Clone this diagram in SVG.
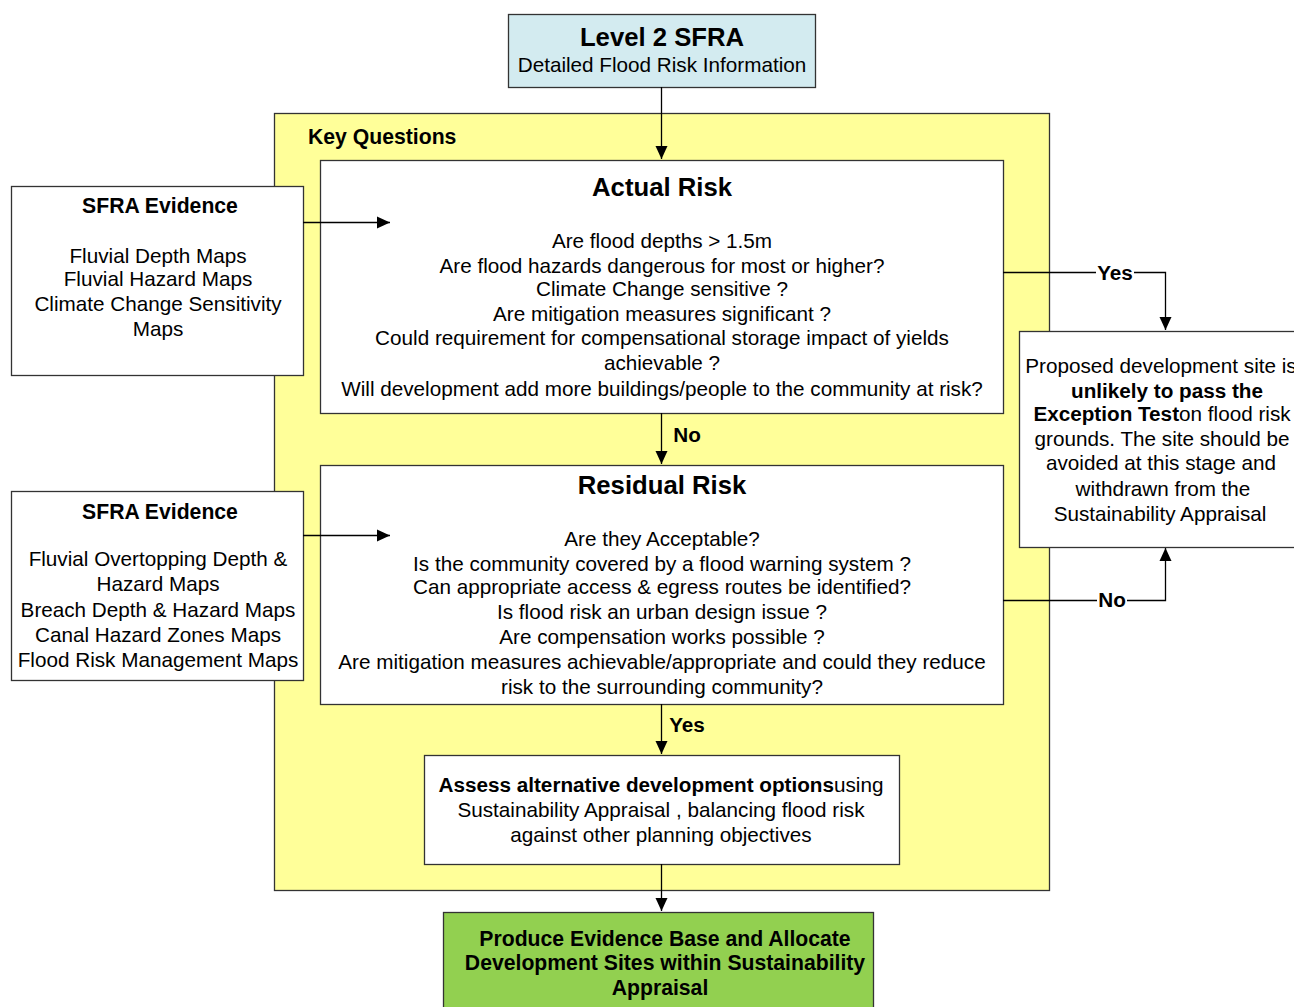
<svg xmlns="http://www.w3.org/2000/svg" width="1294" height="1007" viewBox="0 0 1294 1007">
<defs>
<marker id="ah" markerWidth="14" markerHeight="14" refX="13" refY="7" orient="auto" markerUnits="userSpaceOnUse">
<path d="M0,1 L13,7 L0,13 Z" fill="#000"/>
</marker>
<style>
.box{stroke:#333;stroke-width:1.3}
.t{font-family:"Liberation Sans",Arial,sans-serif;font-size:20.7px;fill:#000;text-anchor:middle}
.b{font-weight:bold}
.h{font-weight:bold;font-size:21.2px}
.ti{font-weight:bold;font-size:25.7px}
.c{fill:none;stroke:#000;stroke-width:1.3}
</style>
</defs>
<rect width="1294" height="1007" fill="#fff"/>

<g id="key-questions">
<rect class="box" x="274.5" y="113.5" width="775" height="777" fill="#ffff99"/>
<text class="t h" x="308" y="144" style="text-anchor:start">Key Questions</text>
</g>

<g id="level2">
<rect class="box" x="508.5" y="14.5" width="307" height="73" fill="#d3ebf0"/>
<text class="t ti" x="662" y="46">Level 2 SFRA</text>
<text class="t" x="662" y="72">Detailed Flood Risk Information</text>
</g>

<g id="actual-risk">
<rect class="box" x="320.5" y="160.5" width="683" height="253" fill="#fff"/>
<text class="t ti" x="662" y="196">Actual Risk</text>
<text class="t" x="662" y="248">Are flood depths &gt; 1.5m</text>
<text class="t" x="662" y="273">Are flood hazards dangerous for most or higher?</text>
<text class="t" x="662" y="296">Climate Change sensitive ?</text>
<text class="t" x="662" y="321">Are mitigation measures significant ?</text>
<text class="t" x="662" y="345">Could requirement for compensational storage impact of yields</text>
<text class="t" x="662" y="370">achievable ?</text>
<text class="t" x="662" y="396">Will development add more buildings/people to the community at risk?</text>
</g>

<g id="residual-risk">
<rect class="box" x="320.5" y="465.5" width="683" height="239" fill="#fff"/>
<text class="t ti" x="662" y="494">Residual Risk</text>
<text class="t" x="662" y="546">Are they Acceptable?</text>
<text class="t" x="662" y="571">Is the community covered by a flood warning system ?</text>
<text class="t" x="662" y="594">Can appropriate access &amp; egress routes be identified?</text>
<text class="t" x="662" y="619">Is flood risk an urban design issue ?</text>
<text class="t" x="662" y="644">Are compensation works possible ?</text>
<text class="t" x="662" y="669">Are mitigation measures achievable/appropriate and could they reduce</text>
<text class="t" x="662" y="694">risk to the surrounding community?</text>
</g>

<g id="evidence-1">
<rect class="box" x="11.5" y="186.5" width="292" height="189" fill="#fff"/>
<text class="t h" x="160" y="213">SFRA Evidence</text>
<text class="t" x="158" y="263">Fluvial Depth Maps</text>
<text class="t" x="158" y="286">Fluvial Hazard Maps</text>
<text class="t" x="158" y="311">Climate Change Sensitivity</text>
<text class="t" x="158" y="336">Maps</text>
</g>

<g id="evidence-2">
<rect class="box" x="11.5" y="491.5" width="292" height="189" fill="#fff"/>
<text class="t h" x="160" y="519">SFRA Evidence</text>
<text class="t" x="158" y="566">Fluvial Overtopping Depth &amp;</text>
<text class="t" x="158" y="591">Hazard Maps</text>
<text class="t" x="158" y="617">Breach Depth &amp; Hazard Maps</text>
<text class="t" x="158" y="642">Canal Hazard Zones Maps</text>
<text class="t" x="158" y="667">Flood Risk Management Maps</text>
</g>

<g id="unlikely">
<rect class="box" x="1019.5" y="331.5" width="290" height="216" fill="#fff"/>
<text class="t" x="1161" y="373">Proposed development site is</text>
<text class="t b" x="1167" y="398">unlikely to pass the</text>
<text class="t" x="1162" y="421"><tspan class="b">Exception Test</tspan>on flood risk</text>
<text class="t" x="1162" y="446">grounds.  The site should be</text>
<text class="t" x="1161" y="470">avoided at this stage and</text>
<text class="t" x="1163" y="496">withdrawn from the</text>
<text class="t" x="1160" y="521">Sustainability Appraisal</text>
</g>

<g id="assess">
<rect class="box" x="424.5" y="755.5" width="475" height="109" fill="#fff"/>
<text class="t" x="661" y="792"><tspan class="b">Assess alternative development options</tspan>using</text>
<text class="t" x="661" y="817">Sustainability Appraisal , balancing flood risk</text>
<text class="t" x="661" y="842">against other planning objectives</text>
</g>

<g id="produce">
<rect class="box" x="443.5" y="912.5" width="430" height="100" fill="#92d050"/>
<text class="t h" x="665" y="946">Produce Evidence Base and Allocate</text>
<text class="t h" x="665" y="970">Development Sites within Sustainability</text>
<text class="t h" x="660" y="995">Appraisal</text>
</g>

<g id="connectors">
<line class="c" x1="661.5" y1="87" x2="661.5" y2="159" marker-end="url(#ah)"/>
<line class="c" x1="661.5" y1="413" x2="661.5" y2="464" marker-end="url(#ah)"/>
<line class="c" x1="661.5" y1="704" x2="661.5" y2="754" marker-end="url(#ah)"/>
<line class="c" x1="661.5" y1="864" x2="661.5" y2="911" marker-end="url(#ah)"/>
<line class="c" x1="303" y1="222.5" x2="390" y2="222.5" marker-end="url(#ah)"/>
<line class="c" x1="303" y1="535.5" x2="390" y2="535.5" marker-end="url(#ah)"/>
<polyline class="c" points="1003,272.5 1096,272.5"/>
<polyline class="c" points="1134,272.5 1165.5,272.5 1165.5,330" marker-end="url(#ah)"/>
<polyline class="c" points="1003,600.5 1097,600.5"/>
<polyline class="c" points="1127,600.5 1165.5,600.5 1165.5,548" marker-end="url(#ah)"/>
<text class="t b" x="687" y="442">No</text>
<text class="t b" x="687" y="732">Yes</text>
<text class="t b" x="1115" y="280">Yes</text>
<text class="t b" x="1112" y="607">No</text>
</g>
</svg>
